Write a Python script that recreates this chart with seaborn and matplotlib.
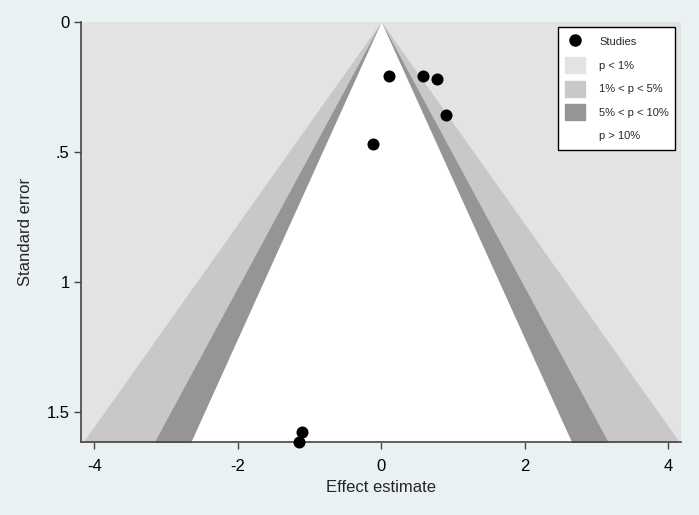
import numpy as np
import matplotlib
matplotlib.use("Agg")
import matplotlib.pyplot as plt
import matplotlib.patches as mpatches
from matplotlib.lines import Line2D
import pandas as pd
import seaborn as sns

# studies
effect = [0.11, 0.58, 0.78, 0.90, -0.12, -1.10, -1.14]
std_err = [0.21, 0.21, 0.22, 0.36, 0.47, 1.575, 1.615]

# contour levels (two-sided z) and their fills
z_levels = [2.576, 1.960, 1.645]
band_colors = ["#c8c8c8", "#959595", "#ffffff"]
outer_color = "#e3e3e3"
band_labels = ["p < 1%", "1% < p < 5%", "5% < p < 10%", "p > 10%"]

x_ticks = [-4, -2, 0, 2, 4]
y_ticks = [0, 0.5, 1, 1.5]
y_tick_labels = ["0", ".5", "1", "1.5"]

df = pd.DataFrame({"effect": effect, "se": std_err})

sns.set_theme(style="white")
plt.rcParams["font.family"] = ["Liberation Sans", "DejaVu Sans"]

bg = "#e9f1f3"
fig = plt.figure(figsize=(6.99, 5.15), dpi=100, facecolor=bg)
ax = fig.add_axes([0.1155, 0.1412, 0.8587, 0.8167])
ax.set_facecolor(outer_color)

se_max = max(std_err)
se_line = np.array([0.0, se_max + 0.05])
for z, c in zip(z_levels, band_colors):
    ax.fill_betweenx(se_line, -z * se_line, z * se_line, color=c, lw=0, zorder=1)

sns.scatterplot(data=df, x="effect", y="se", ax=ax, color="black", s=75,
                edgecolor="black", linewidth=0, zorder=3, legend=False)
for coll in ax.collections[-1:]:
    coll.set_clip_on(False)

ax.set_xlim(-4.19, 4.18)
ax.set_ylim(1.615, 0)
ax.set_xticks(x_ticks)
ax.set_xticklabels([str(t) for t in x_ticks])
ax.set_yticks(y_ticks)
ax.set_yticklabels(y_tick_labels)
ax.tick_params(axis="both", direction="out", length=5, width=1, colors="#444444",
               labelcolor="black", labelsize=12, pad=3, left=True, bottom=True)
ax.tick_params(axis="x", pad=7)

for side in ["top", "right"]:
    ax.spines[side].set_visible(False)
for side in ["left", "bottom"]:
    ax.spines[side].set_color("#444444")
    ax.spines[side].set_linewidth(1.2)

ax.set_xlabel("Effect estimate", fontsize=12, labelpad=4)
ax.set_ylabel("Standard error", fontsize=12, labelpad=10)

handles = [Line2D([0], [0], marker="o", color="none", markerfacecolor="black",
                  markeredgecolor="black", markersize=8)]
for c in [outer_color] + band_colors:
    handles.append(mpatches.Patch(facecolor=c, edgecolor=c))
leg = ax.legend(handles, ["Studies"] + band_labels, loc="upper right",
                bbox_to_anchor=(1.0, 1.0), fontsize=8, frameon=True,
                fancybox=False, edgecolor="black", framealpha=1,
                handlelength=1.8, handleheight=1.8, labelspacing=0.7,
                borderpad=0.6, handletextpad=1.3)
leg.get_frame().set_linewidth(1.0)

fig.savefig("out.png", dpi=100, facecolor=bg)
